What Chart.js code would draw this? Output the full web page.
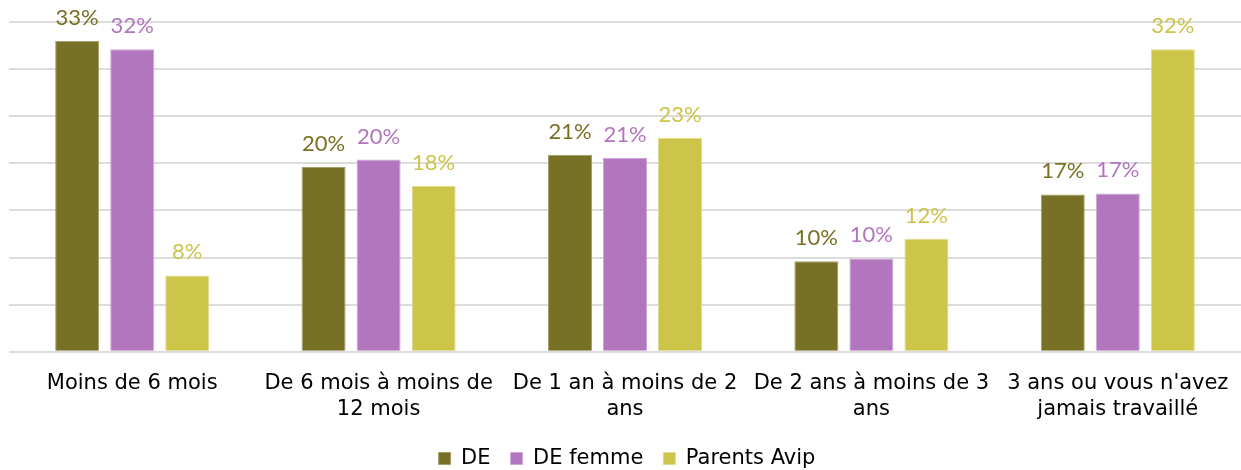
<!DOCTYPE html>
<html>
<head>
<meta charset="utf-8">
<script src="https://cdn.jsdelivr.net/npm/chart.js@4/dist/chart.umd.min.js"></script>
<style>
html,body{margin:0;padding:0;background:#fff;}
#wrap{width:1241px;height:470px;position:relative;}
</style>
</head>
<body>
<div id="wrap"><canvas id="c" width="1241" height="470"></canvas></div>
<script>
const categories = [
  "Moins de 6 mois",
  ["De 6 mois à moins de", "12 mois"],
  ["De 1 an à moins de 2", "ans"],
  ["De 2 ans à moins de 3", "ans"],
  ["3 ans ou vous n'avez", "jamais travaillé"]
];
const seriesNames = ["DE", "DE femme", "Parents Avip"];
const deValues = [33.0, 19.6, 20.9, 9.6, 16.7];
const deFemmeValues = [32.1, 20.4, 20.6, 9.9, 16.8];
const parentsValues = [8.1, 17.6, 22.7, 12.0, 32.1];
const colors = ["#787125", "#b276bf", "#cdc44a"];
const edgeColors = ["#a49e6a", "#cfa6d8", "#e0d98e"];

const labelPlugin = {
  id: 'valueLabels',
  afterDatasetsDraw(chart) {
    const ctx = chart.ctx;
    ctx.save();
    ctx.font = '400 22px Lato, "DejaVu Sans", sans-serif';
    ctx.textAlign = 'center';
    ctx.textBaseline = 'alphabetic';
    chart.data.datasets.forEach((ds, i) => {
      const meta = chart.getDatasetMeta(i);
      ctx.fillStyle = colors[i];
      meta.data.forEach((bar, j) => {
        ctx.fillText(Math.round(ds.data[j]) + '%', bar.x, bar.y - 16);
      });
    });
    ctx.restore();
  }
};

new Chart(document.getElementById('c'), {
  type: 'bar',
  data: {
    labels: categories,
    datasets: [
      { label: seriesNames[0], data: deValues, backgroundColor: colors[0], borderColor: edgeColors[0], borderWidth: 1 },
      { label: seriesNames[1], data: deFemmeValues, backgroundColor: colors[1], borderColor: edgeColors[1], borderWidth: 1 },
      { label: seriesNames[2], data: parentsValues, backgroundColor: colors[2], borderColor: edgeColors[2], borderWidth: 1 }
    ]
  },
  options: {
    responsive: false,
    animation: false,
    layout: { padding: { top: 22, left: 9, right: -4, bottom: -9 } },
    datasets: { bar: { categoryPercentage: 0.67, barPercentage: 0.8 } },
    scales: {
      x: {
        grid: { display: false },
        border: { display: false },
        afterFit(scale) { scale.height -= 5; },
        ticks: {
          color: '#000',
          font: { family: '"DejaVu Sans", Verdana, sans-serif', size: 21, lineHeight: 1.22 },
          maxRotation: 0, autoSkip: false, padding: 11
        }
      },
      y: {
        min: 0, max: 35,
        ticks: { display: false, stepSize: 5 },
        border: { display: false },
        grid: { color: '#dcdcdc', lineWidth: 2, drawTicks: false }
      }
    },
    plugins: {
      legend: {
        position: 'bottom',
        labels: {
          boxWidth: 12, boxHeight: 12, padding: 20,
          color: '#000',
          font: { family: '"DejaVu Sans", Verdana, sans-serif', size: 21 }
        }
      },
      tooltip: { enabled: false }
    }
  },
  plugins: [labelPlugin]
});
</script>
</body>
</html>
